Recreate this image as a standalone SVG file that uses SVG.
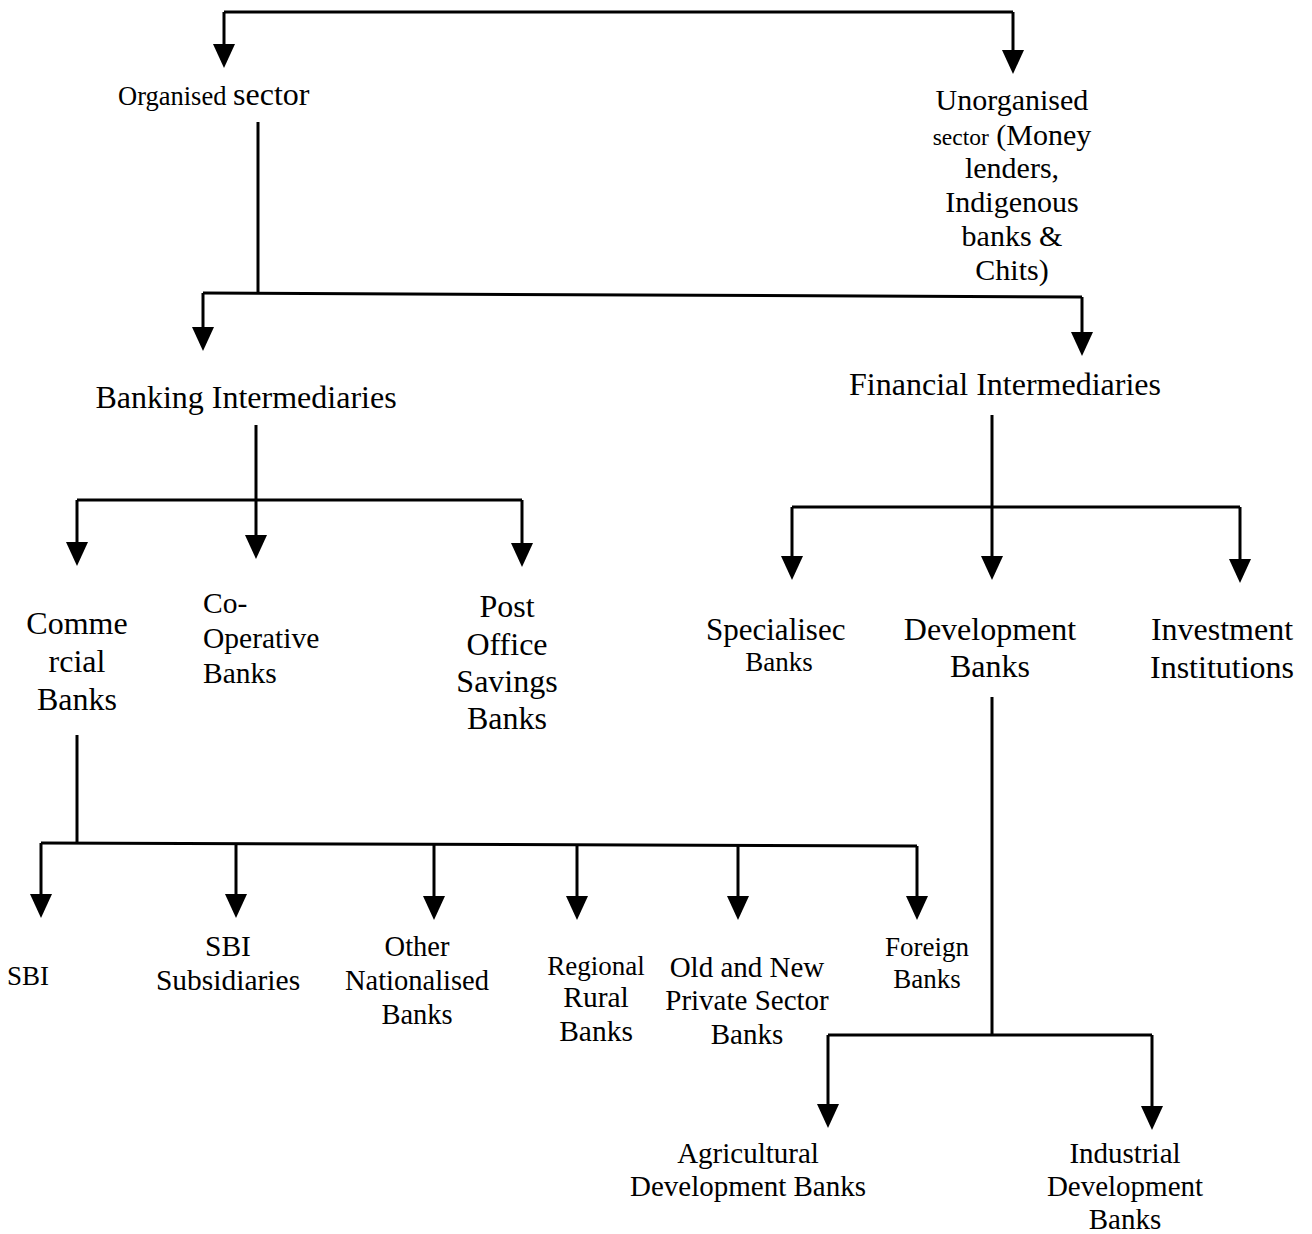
<svg xmlns="http://www.w3.org/2000/svg" width="1312" height="1234" viewBox="0 0 1312 1234">
<style>
text{font-family:"Liberation Serif","Times New Roman",serif;fill:#000;}
.l{font-size:32px;}
.m{font-size:29.5px;}
.s{font-size:27px;}
.c{text-anchor:middle;}
.ln{fill:none;stroke:#000;stroke-width:3;}
.ah{fill:#000;}
</style>
<rect width="1312" height="1234" fill="#fff"/>
<g id="connectors">
<path class="ln" d="M224,12 H1013"/>
<path class="ln" d="M224,12 V45"/>
<path class="ah" d="M213,44 L235,44 L224,68 Z"/>
<path class="ln" d="M1013,12 V51"/>
<path class="ah" d="M1002,50 L1024,50 L1013,74 Z"/>
<path class="ln" d="M258,122 V293"/>
<path class="ln" d="M203,293 L1082,297"/>
<path class="ln" d="M203,293 V328"/>
<path class="ah" d="M192,327 L214,327 L203,351 Z"/>
<path class="ln" d="M1082,297 V333"/>
<path class="ah" d="M1071,332 L1093,332 L1082,356 Z"/>
<path class="ln" d="M256,425 V536"/>
<path class="ah" d="M245,535 L267,535 L256,559 Z"/>
<path class="ln" d="M77,500 H522"/>
<path class="ln" d="M77,500 V543"/>
<path class="ah" d="M66,542 L88,542 L77,566 Z"/>
<path class="ln" d="M522,500 V544"/>
<path class="ah" d="M511,543 L533,543 L522,567 Z"/>
<path class="ln" d="M992,415 V557"/>
<path class="ah" d="M981,556 L1003,556 L992,580 Z"/>
<path class="ln" d="M792,507 H1240"/>
<path class="ln" d="M792,507 V557"/>
<path class="ah" d="M781,556 L803,556 L792,580 Z"/>
<path class="ln" d="M1240,507 V560"/>
<path class="ah" d="M1229,559 L1251,559 L1240,583 Z"/>
<path class="ln" d="M77,735 V843"/>
<path class="ln" d="M41,843 L917,846"/>
<path class="ln" d="M41,843 V895"/>
<path class="ah" d="M30,894 L52,894 L41,918 Z"/>
<path class="ln" d="M236,844 V895"/>
<path class="ah" d="M225,894 L247,894 L236,918 Z"/>
<path class="ln" d="M434,844 V897"/>
<path class="ah" d="M423,896 L445,896 L434,920 Z"/>
<path class="ln" d="M577,845 V897"/>
<path class="ah" d="M566,896 L588,896 L577,920 Z"/>
<path class="ln" d="M738,845 V897"/>
<path class="ah" d="M727,896 L749,896 L738,920 Z"/>
<path class="ln" d="M917,846 V897"/>
<path class="ah" d="M906,896 L928,896 L917,920 Z"/>
<path class="ln" d="M992,697 V1035"/>
<path class="ln" d="M828,1035 H1152"/>
<path class="ln" d="M828,1035 V1105"/>
<path class="ah" d="M817,1104 L839,1104 L828,1128 Z"/>
<path class="ln" d="M1152,1035 V1107"/>
<path class="ah" d="M1141,1106 L1163,1106 L1152,1130 Z"/>
</g>
<g id="organised"><text x="118" y="105" style="font-size:26.5px">Organised <tspan style="font-size:32px">sector</tspan></text></g>
<g id="unorganised">
<text x="1012" y="110" class="c" style="font-size:30px">Unorganised</text>
<text x="1012" y="145" class="c" style="font-size:30px"><tspan style="font-size:23.5px">sector</tspan> (Money</text>
<text x="1012" y="178" class="c" style="font-size:30px">lenders,</text>
<text x="1012" y="212" class="c" style="font-size:30px">Indigenous</text>
<text x="1012" y="246" class="c" style="font-size:30px">banks &amp;</text>
<text x="1012" y="280" class="c" style="font-size:30px">Chits)</text>
</g>
<g id="banking"><text x="246" y="408" class="l c">Banking Intermediaries</text></g>
<g id="financial"><text x="1005" y="395" class="l c">Financial Intermediaries</text></g>
<g id="commercial">
<text x="77" y="634" class="l c">Comme</text>
<text x="77" y="672" class="l c">rcial</text>
<text x="77" y="710" class="l c">Banks</text>
</g>
<g id="cooperative">
<text x="203" y="613" class="m">Co-</text>
<text x="203" y="648" class="m">Operative</text>
<text x="203" y="683" class="m">Banks</text>
</g>
<g id="postoffice">
<text x="507" y="617" class="l c">Post</text>
<text x="507" y="655" class="l c">Office</text>
<text x="507" y="692" class="l c">Savings</text>
<text x="507" y="729" class="l c">Banks</text>
</g>
<g id="specialised">
<text x="706" y="640" style="font-size:31px">Specialisec</text>
<text x="779" y="671" class="s c">Banks</text>
</g>
<g id="development">
<text x="990" y="640" class="l c">Development</text>
<text x="990" y="677" class="l c">Banks</text>
</g>
<g id="investment">
<text x="1222" y="640" class="l c">Investment</text>
<text x="1222" y="678" class="l c">Institutions</text>
</g>
<g id="sbi"><text x="7" y="985" class="s">SBI</text></g>
<g id="sbisub">
<text x="228" y="956" class="m c">SBI</text>
<text x="228" y="990" class="m c">Subsidiaries</text>
</g>
<g id="othernat">
<text x="417" y="956" class="c" style="font-size:28.5px">Other</text>
<text x="417" y="990" class="c" style="font-size:28.5px">Nationalised</text>
<text x="417" y="1024" class="c" style="font-size:28.5px">Banks</text>
</g>
<g id="rrb">
<text x="596" y="975" class="s c">Regional</text>
<text x="596" y="1007" class="m c">Rural</text>
<text x="596" y="1041" class="m c">Banks</text>
</g>
<g id="private">
<text x="747" y="977" class="c" style="font-size:29px">Old and New</text>
<text x="747" y="1010" class="c" style="font-size:29px">Private Sector</text>
<text x="747" y="1044" class="c" style="font-size:29px">Banks</text>
</g>
<g id="foreign">
<text x="927" y="956" class="s c">Foreign</text>
<text x="927" y="988" class="s c">Banks</text>
</g>
<g id="agri">
<text x="748" y="1163" class="c" style="font-size:29px">Agricultural</text>
<text x="748" y="1196" class="c" style="font-size:29px">Development Banks</text>
</g>
<g id="indus">
<text x="1125" y="1163" class="c" style="font-size:29px">Industrial</text>
<text x="1125" y="1196" class="c" style="font-size:29px">Development</text>
<text x="1125" y="1229" class="c" style="font-size:29px">Banks</text>
</g>
</svg>
